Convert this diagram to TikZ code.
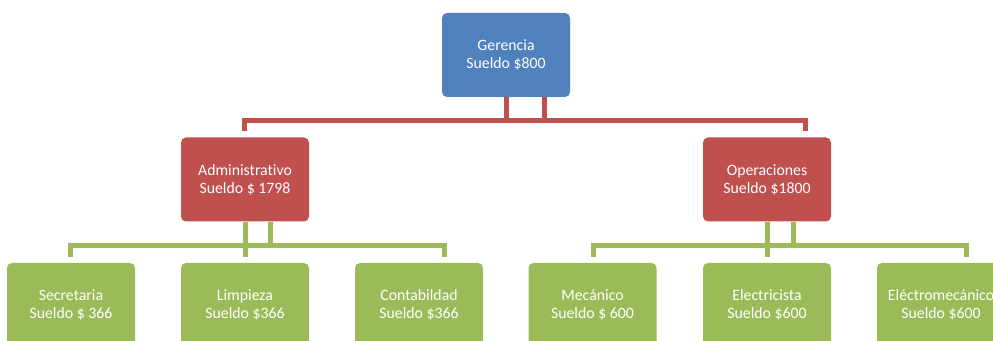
\documentclass[tikz,border=0pt]{standalone}
\usepackage{fontspec}
\setmainfont{Carlito}[Ligatures=NoCommon]
\usetikzlibrary{calc}
\definecolor{cblue}{HTML}{4F81BD}
\definecolor{cred}{HTML}{C0504D}
\definecolor{cgreen}{HTML}{9BBB59}
\tikzset{
  box/.style={rectangle, rounded corners=5pt, minimum width=128pt, minimum height=84pt,
    inner sep=0pt, text=white, align=center,
    font=\fontsize{15.8pt}{18pt}\selectfont},
  bluebox/.style={box, fill=cblue},
  redbox/.style={box, fill=cred},
  greenbox/.style={box, fill=cgreen},
  rl/.style={draw=cred, line width=5pt},
  gl/.style={draw=cgreen, line width=5pt}
}
\begin{document}
\begin{tikzpicture}[x=1pt,y=1pt]
\useasboundingbox (0,0) rectangle (993,340);
\clip (0,0) rectangle (993,340);
\node[bluebox] (ger) at (506,285) {Gerencia\\Sueldo \$800};
\node[redbox] (adm) at (245,160.5) {Administrativo\\Sueldo \$ 1798};
\node[redbox] (ops) at (767,160.5) {Operaciones\\Sueldo \$1800};
\node[greenbox] (sec) at (71,35) {Secretaria\\Sueldo \$ 366};
\node[greenbox] (lim) at (245,35) {Limpieza\\Sueldo \$366};
\node[greenbox] (con) at (419,35) {Contabildad\\Sueldo \$366};
\node[greenbox] (mec) at (592.5,35) {Mecánico\\Sueldo \$ 600};
\node[greenbox] (ele) at (767,35) {Electricista\\Sueldo \$600};
\node[greenbox] (elm) at (941,35) {Eléctromecánico\\Sueldo \$600};
% red connectors
\coordinate (rL) at (244.5,219.5);
\coordinate (rR) at (805.5,219.5);
\draw[rl] ($(adm.north -| rL)+(0,6)$) -- (rL) -- (rR) -- ($(ops.north -| rR)+(0,6)$);
\draw[rl] (ger.south) -- (ger.south |- rL);
\draw[rl] ($(ger.south)+(38.5,0)$) -- ($(ger.south)+(38.5,-23.5)$);
% green connectors, left
\coordinate (gL1) at (70.5,94.5);
\coordinate (gR1) at (444.5,94.5);
\draw[gl] ($(sec.north -| gL1)+(0,6)$) -- (gL1) -- (gR1) -- ($(con.north -| gR1)+(0,6)$);
\draw[gl] (adm.south) -- ($(lim.north)+(0,6)$);
\draw[gl] ($(adm.south)+(25.5,0)$) -- ($(adm.south)+(25.5,-24.5)$);
% green connectors, right
\coordinate (gL2) at (593,94.5);
\coordinate (gR2) at (966.5,94.5);
\draw[gl] ($(mec.north -| gL2)+(0,6)$) -- (gL2) -- (gR2) -- ($(elm.north -| gR2)+(0,6)$);
\draw[gl] (ops.south) -- ($(ele.north)+(0,6)$);
\draw[gl] ($(ops.south)+(26,0)$) -- ($(ops.south)+(26,-24.5)$);
\end{tikzpicture}
\end{document}
